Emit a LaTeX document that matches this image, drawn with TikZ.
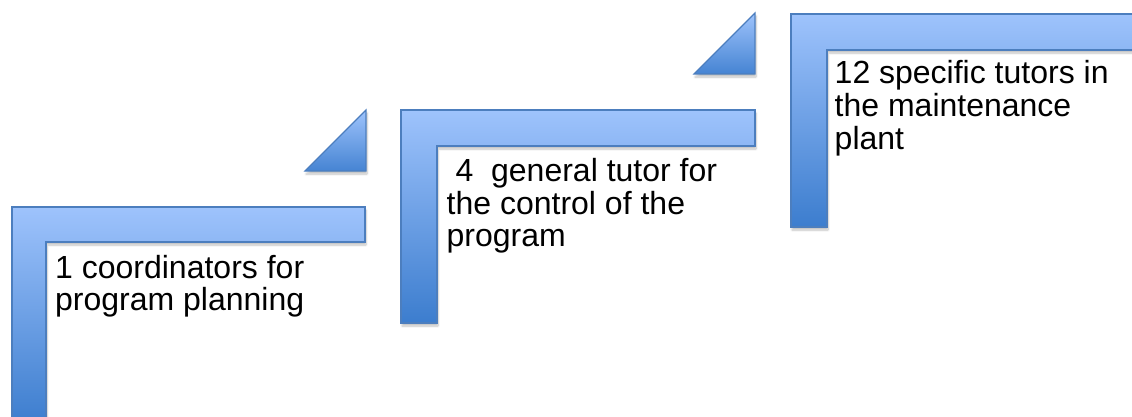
\documentclass[tikz,border=0pt]{standalone}
\usepackage{fontspec}
\setmainfont{Liberation Sans}
\usetikzlibrary{shadows.blur}
\definecolor{lightb}{RGB}{158,195,252}
\definecolor{darkb}{RGB}{60,125,206}
\definecolor{edgeb}{RGB}{76,126,190}
\newcommand{\steplines}[1]{\begin{tabular}[t]{@{}l@{}}#1\end{tabular}}
\tikzset{
  lstep/.style={draw=edgeb, line width=1.1pt, top color=lightb, bottom color=darkb,
    blur shadow={shadow xshift=1pt, shadow yshift=-3pt, shadow blur steps=6, shadow opacity=25}},
  ltri/.style={draw=edgeb, line width=1.1pt, top color=lightb, bottom color=darkb!90!lightb,
    blur shadow={shadow xshift=1pt, shadow yshift=-3pt, shadow blur steps=6, shadow opacity=25}},
  ltext/.style={anchor=base west, inner sep=0pt, font=\fontsize{32}{32.5}\selectfont}
}
\begin{document}
\begin{tikzpicture}[x=1pt,y=-1pt]
\useasboundingbox (0,0) rectangle (1132,417);
% step 1
\path[lstep] (12,207) -- (365,207) -- (365,242) -- (46,242) -- (46,425) -- (12,425) -- cycle;
% step 2
\path[lstep] (401,110) -- (755,110) -- (755,146) -- (437,146) -- (437,323) -- (401,323) -- cycle;
% step 3
\path[lstep] (791,14) -- (1145,14) -- (1145,50) -- (827,50) -- (827,227) -- (791,227) -- cycle;
% triangles
\path[ltri] (305,171) -- (366,110) -- (366,171) -- cycle;
\path[ltri] (694,74) -- (755,13) -- (755,74) -- cycle;
% texts
\node[ltext] (t1) at (55,278) {\steplines{1 coordinators for\\program planning}};
\node[ltext] (t2) at (446.5,181.5) {\steplines{\ 4\ \ general tutor for\\the control of the\\program}};
\node[ltext] (t3) at (834.5,84) {\steplines{12 specific tutors in\\the maintenance\\plant}};
\end{tikzpicture}
\end{document}
